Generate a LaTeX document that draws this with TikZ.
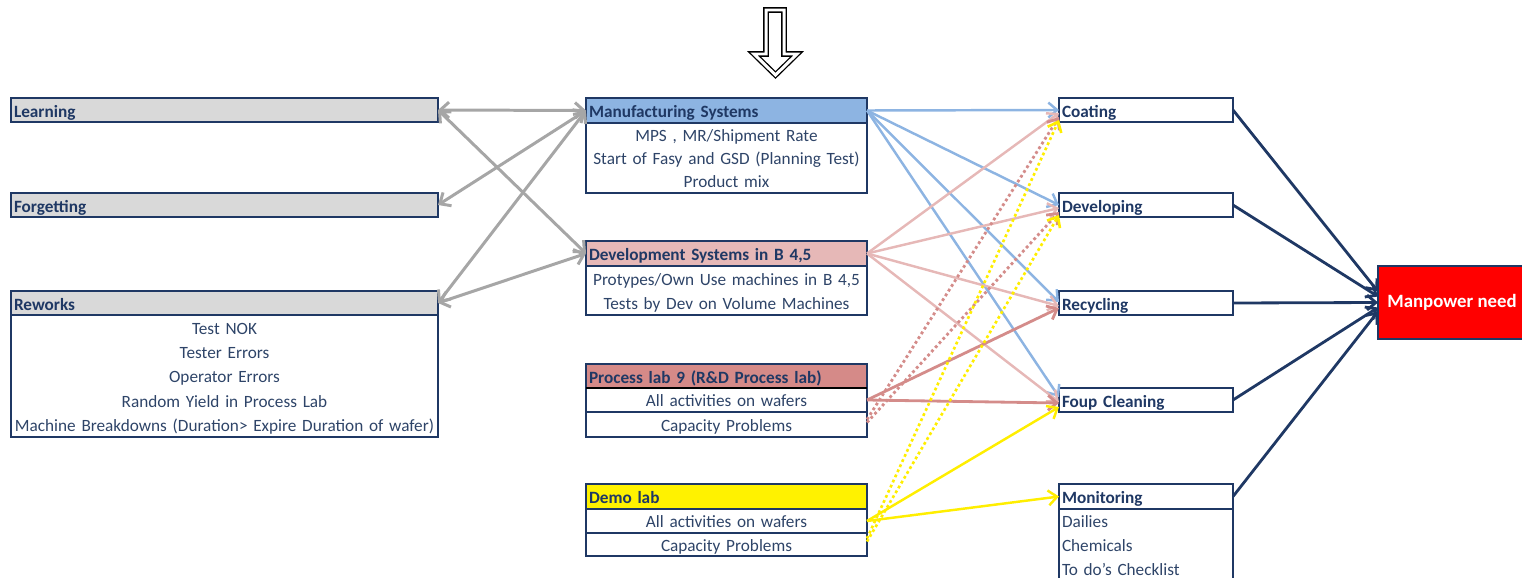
\documentclass[tikz,border=0pt]{standalone}
\usepackage{fontspec}
\setmainfont{Carlito}
\usetikzlibrary{arrows.meta}
\newlength\pxl
\setlength\pxl{0.02cm}
\definecolor{navy}{HTML}{1F3864}
\definecolor{bodytxt}{HTML}{2E4468}
\definecolor{hgray}{HTML}{D9D9D9}
\definecolor{mshdr}{HTML}{8DB4E2}
\definecolor{dshdr}{HTML}{E6B8B7}
\definecolor{plhdr}{HTML}{D58A88}
\definecolor{dlhdr}{HTML}{FFF200}
\definecolor{grayarr}{HTML}{A6A6A6}
\definecolor{bluearr}{HTML}{8DB4E2}
\definecolor{pinkarr}{HTML}{E6B8B7}
\definecolor{redarr}{HTML}{D48C8A}
\definecolor{yelarr}{HTML}{FFEE00}
\newcommand\hdrfnt{\bfseries\fontsize{9.8}{11}\selectfont}
\newcommand\bodyfnt[1]{\fontsize{9.8}{#1}\selectfont}
% raises the first line's height so a centred block of lines sits a little lower
\newcommand\toppad[1]{\rule{0pt}{#1}}
\tikzset{
  frame/.style={draw=navy, line width=1.1pt, inner sep=0pt, outer sep=0pt, anchor=north west},
  hdr/.style={frame, text=navy, font=\hdrfnt, align=left, inner xsep=3\pxl, minimum height=24\pxl,
    text height=9.8pt, text depth=1.4pt},
  rows/.style={frame, text=bodytxt, align=center, inner xsep=3\pxl},
  onerow/.style={rows, font=\bodyfnt{11}, text height=9pt, text depth=1.6pt},
  wleft/.style={text width=421\pxl},
  wmid/.style={text width=275\pxl},
  wright/.style={text width=168\pxl},
  twoway/.style={line width=1.7pt, draw=grayarr,
    arrows={Straight Barb[length=5pt,width=9pt]-Straight Barb[length=5pt,width=9pt]}},
  oneway/.style={line width=#1, -{Straight Barb[length=5pt,width=8.5pt]}},
  oneway/.default=1.4pt,
  dots/.style={dash pattern=on 1.6pt off 1.6pt}
}
\begin{document}
\begin{tikzpicture}[x=\pxl, y=-\pxl]
\useasboundingbox (0,0) rectangle (1522,578);

% hollow down arrow at the top
\draw[line width=0.75pt, double=white, double distance=1.7pt, line join=miter]
  (766,10) -- (784,10) -- (784,54) -- (797,54) -- (775.5,75) -- (754,54) -- (766,54) -- cycle;

% left column
\node[hdr, wleft, fill=hgray] (learn) at (11,98) {Learning};
\node[hdr, wleft, fill=hgray] (forget) at (11,193) {Forgetting};
\node[hdr, wleft, fill=hgray] (rew) at (11,291) {Reworks};
\node[rows, wleft, minimum height=122\pxl, font=\bodyfnt{13.9}] (rewb) at (rew.south west)
  {\toppad{9.4pt}Test NOK\\Tester Errors\\Operator Errors\\Random Yield in Process Lab\\Machine Breakdowns (Duration> Expire Duration of wafer)};

% middle column
\node[hdr, wmid, fill=mshdr, minimum height=25\pxl] (ms) at (586,98) {Manufacturing Systems};
\node[rows, wmid, minimum height=70\pxl, font=\bodyfnt{13.1}] (msb) at (ms.south west)
  {\toppad{8pt}MPS , MR/Shipment Rate\\Start of Fasy and GSD (Planning Test)\\Product mix};
\node[hdr, wmid, fill=dshdr, minimum height=25\pxl] (ds) at (586,241) {Development Systems in B 4,5};
\node[rows, wmid, minimum height=49\pxl, font=\bodyfnt{13.7}] (dsb) at (ds.south west)
  {\toppad{9.4pt}Protypes/Own Use machines in B 4,5\\Tests by Dev on Volume Machines};
\node[hdr, wmid, fill=plhdr] (pl) at (586,364) {Process lab 9 (R\&D Process lab)};
\node[onerow, wmid, minimum height=24\pxl] (pl1) at (pl.south west) {All activities on wafers};
\node[onerow, wmid, minimum height=25\pxl] (pl2) at (pl1.south west) {Capacity Problems};
\draw[black, line width=0.9pt] (pl.south west) -- (pl.south east);
\node[hdr, wmid, fill=dlhdr, minimum height=25\pxl] (dl) at (586,484) {Demo lab};
\node[onerow, wmid, minimum height=24\pxl] (dl1) at (dl.south west) {All activities on wafers};
\node[onerow, wmid, minimum height=23\pxl] (dl2) at (dl1.south west) {Capacity Problems};

% right column
\node[hdr, wright] (coat) at (1059,98) {Coating};
\node[hdr, wright] (devl) at (1059,193) {Developing};
\node[hdr, wright] (recy) at (1059,291) {Recycling};
\node[hdr, wright] (foup) at (1059,388) {Foup Cleaning};
\node[hdr, wright, minimum height=25\pxl] (mon) at (1059,484) {Monitoring};
\node[rows, wright, align=left, minimum height=71\pxl, font=\bodyfnt{13.4}] (monb) at (mon.south west)
  {\toppad{8pt}Dailies\\Chemicals\\To do's Checklist};

% result
\node[frame, fill=red, text=white, font=\bfseries\fontsize{10.7}{12}\selectfont,
  minimum width=148\pxl, minimum height=73\pxl] (mp) at (1378,266) {Manpower need};

% grey two-way links
\draw[twoway] (learn.east) -- (ms.west);
\draw[twoway] (learn.east) -- (ds.west);
\draw[twoway] (forget.east) -- (ms.west);
\draw[twoway] (rew.east) -- (ms.west);
\draw[twoway] (rew.east) -- (ds.west);

% manufacturing systems
\draw[oneway, bluearr] (ms.east) -- (coat.west);
\draw[oneway, bluearr] (ms.east) -- (devl.west);
\draw[oneway, bluearr] (ms.east) -- ([yshift=1\pxl]recy.west);
\draw[oneway, bluearr] (ms.east) -- ([yshift=3\pxl]foup.west);

% development systems
\draw[oneway, pinkarr] (ds.east) -- ([yshift=-3\pxl]coat.west);
\draw[oneway, pinkarr] (ds.east) -- ([yshift=-3\pxl]devl.west);
\draw[oneway, pinkarr] (ds.east) -- ([yshift=-3\pxl]recy.west);
\draw[oneway, pinkarr] (ds.east) -- ([yshift=-2\pxl]foup.west);

% process lab
\draw[oneway=1.6pt, redarr] (pl1.east) -- ([yshift=-5\pxl]recy.west);
\draw[oneway=1.6pt, redarr] (pl1.east) -- ([yshift=-3\pxl]foup.west);
\draw[oneway=1.6pt, redarr, dots] ([yshift=5\pxl]pl2.east) -- ([yshift=-7\pxl]coat.west);
\draw[oneway=1.6pt, redarr, dots] ([yshift=2\pxl]pl2.east) -- ([yshift=-7\pxl]devl.west);

% demo lab
\draw[oneway, yelarr] (dl1.east) -- ([yshift=-7\pxl]foup.west);
\draw[oneway, yelarr] (dl1.east) -- (mon.west);
\draw[oneway=1.5pt, yelarr, dots] ([yshift=6\pxl]dl2.east) -- ([yshift=-10\pxl]coat.west);
\draw[oneway=1.5pt, yelarr, dots] ([yshift=3\pxl]dl2.east) -- ([yshift=-10\pxl]devl.west);

% into manpower need
\draw[oneway=1.6pt, navy] (coat.east) -- ([yshift=11\pxl]mp.west);
\draw[oneway=1.6pt, navy] (devl.east) -- ([yshift=6\pxl]mp.west);
\draw[oneway=1.6pt, navy] (recy.east) -- (mp.west);
\draw[oneway=1.6pt, navy] (foup.east) -- ([yshift=-5\pxl]mp.west);
\draw[oneway=1.6pt, navy] (mon.east) -- ([yshift=-9\pxl]mp.west);
\end{tikzpicture}
\end{document}
